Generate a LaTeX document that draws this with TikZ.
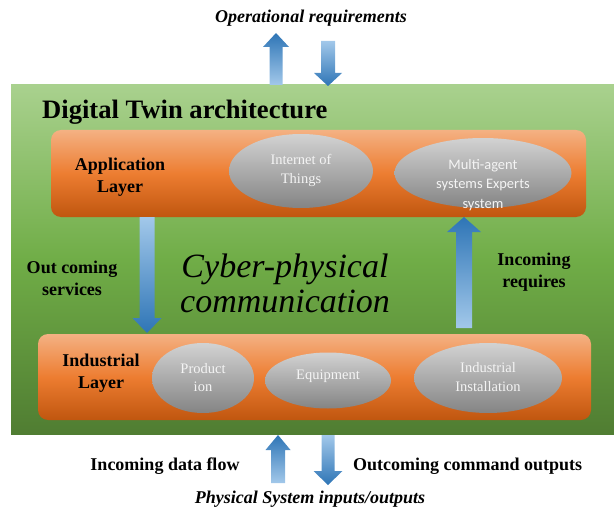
\documentclass[tikz,border=0pt]{standalone}
\usepackage{fontspec}
\setmainfont{Liberation Serif}
\newfontfamily\calibrifont{Carlito}
\usetikzlibrary{shapes.geometric,calc}

\definecolor{greenTop}{HTML}{A9D18E}
\definecolor{greenMid}{HTML}{70AD47}
\definecolor{greenBot}{HTML}{507D32}
\definecolor{orangeTop}{HTML}{F4B183}
\definecolor{orangeMid}{HTML}{ED7D31}
\definecolor{orangeBot}{HTML}{C0560F}
\definecolor{greyTop}{HTML}{D2D2D2}
\definecolor{greyBot}{HTML}{848484}
\definecolor{blueDark}{HTML}{2E75B6}
\definecolor{blueLight}{HTML}{A2C8EA}
\definecolor{bubbleText}{HTML}{F4F4F4}

% vertical block arrow: style, tail, tip, half shaft width, half head width, head length
\newcommand{\blockarrow}[6]{%
  \shade[#1] let \p1=(#2), \p2=(#3), \p3=($(#3)!#6!(#2)$) in
    ({\x2-#4},\y1) -- ({\x2-#4},\y3) -- ({\x2-#5},\y3) -- (\x2,\y2)
    -- ({\x2+#5},\y3) -- ({\x2+#4},\y3) -- ({\x2+#4},\y1) -- cycle;}

\tikzset{
  panel/.style={rectangle, inner sep=0pt, top color=greenTop, bottom color=greenBot, middle color=greenMid},
  layerbox/.style={rectangle, rounded corners=10pt, inner sep=0pt,
    top color=orangeTop, bottom color=orangeBot, middle color=orangeMid},
  bubble/.style={ellipse, inner sep=0pt, top color=greyTop, bottom color=greyBot},
  bubbletext/.style={text=bubbleText, align=center, inner sep=0pt,
    font=\fontsize{14.5}{18.5}\selectfont},
  boldlabel/.style={align=center, inner sep=0pt, font=\fontsize{18}{22}\selectfont\bfseries},
  italiclabel/.style={inner sep=0pt, font=\fontsize{18}{22}\selectfont\bfseries\itshape},
  arrowup/.style={top color=blueDark, bottom color=blueLight},
  arrowdown/.style={top color=blueLight, bottom color=blueDark},
}

\begin{document}
\begin{tikzpicture}[x=1pt, y=-1pt]
\path[use as bounding box] (0,0) rectangle (614,511);

% outer digital twin panel
\node[panel, minimum width=603pt, minimum height=349pt] (dt) at (312.5,259.5) {};
\node[anchor=base west, inner sep=0pt, font=\fontsize{26.6}{30}\selectfont\bfseries]
  (title) at (42,118) {Digital Twin architecture};

% layers
\node[layerbox, minimum width=535pt, minimum height=87pt] (app) at (318.5,173.5) {};
\node[layerbox, minimum width=553pt, minimum height=86pt] (ind) at (314.5,377) {};

\node[boldlabel] (appl) at (120,177.3) {Application\\Layer};
\node[boldlabel] (indl) at (101,373.3) {Industrial\\Layer};

% components
\node[bubble, minimum width=144pt, minimum height=74pt] (iot) at (301,171) {};
\node[bubble, minimum width=177pt, minimum height=70pt] (mas) at (483,173) {};
\node[bubble, minimum width=102pt, minimum height=70pt] (prod) at (203,378) {};
\node[bubble, minimum width=126pt, minimum height=56pt] (equip) at (328,380.5) {};
\node[bubble, minimum width=148pt, minimum height=70pt] (inst) at (488,378) {};

\node[bubbletext] (iott) at (301,170.6) {Internet of\\Things};
\node[bubbletext, font=\calibrifont\fontsize{14.5}{19.5}\selectfont] (mast) at (483,185) {Multi-agent\\systems Experts\\system};
\node[bubbletext] (prodt) at (203,377.6) {Product\\ion};
\node[bubbletext, anchor=base] (equipt) at (328,379) {Equipment};
\node[bubbletext] (instt) at (488,377) {Industrial\\Installation};

% middle labels
\node[boldlabel] (outsrv) at (72,278) {Out coming\\services};
\node[boldlabel] (inreq) at (534,272) {Incoming\\requires};
\node[align=center, inner sep=0pt, font=\fontsize{34}{35}\selectfont\itshape]
  (cpc) at (285,283) {Cyber-physical\\communication};

% outer labels
\node[italiclabel, anchor=base] (opreq) at (311,23) {Operational requirements};
\node[boldlabel, anchor=base] (indata) at (165,470) {Incoming data flow};
\node[boldlabel, anchor=base west] (outcmd) at (353,470) {Outcoming command outputs};
\node[italiclabel, anchor=base] (phys) at (310,503) {Physical System inputs/outputs};

% arrow end points
\coordinate (opUpTail) at (276,85);   \coordinate (opUpTip) at (276,33);
\coordinate (opDnTail) at (328,41);   \coordinate (opDnTip) at (328,86);
\coordinate (svTail) at (147,217);    \coordinate (svTip) at (147,333);
\coordinate (rqTail) at (464,328);    \coordinate (rqTip) at (464,217);
\coordinate (dfTail) at (278,483);    \coordinate (dfTip) at (278,435);
\coordinate (cmTail) at (328,435);    \coordinate (cmTip) at (328,485);

\blockarrow{arrowup}{opUpTail}{opUpTip}{6.5pt}{13pt}{14pt}
\blockarrow{arrowdown}{opDnTail}{opDnTip}{7pt}{14pt}{13pt}
\blockarrow{arrowdown}{svTail}{svTip}{7.5pt}{14.5pt}{15pt}
\blockarrow{arrowup}{rqTail}{rqTip}{8pt}{17pt}{15pt}
\blockarrow{arrowup}{dfTail}{dfTip}{7pt}{12.5pt}{15pt}
\blockarrow{arrowdown}{cmTail}{cmTip}{6.5pt}{14.5pt}{14pt}
\end{tikzpicture}
\end{document}
